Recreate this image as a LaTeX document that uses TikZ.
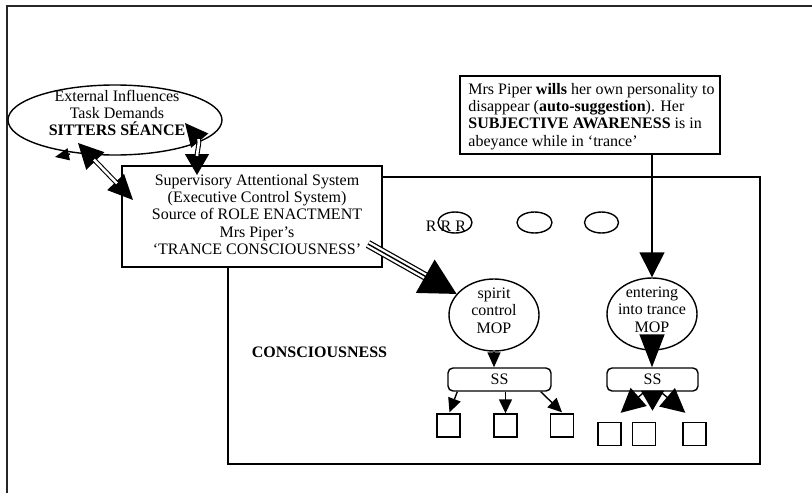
\documentclass[tikz,border=0pt]{standalone}
\usepackage{fontspec}
\setmainfont{Liberation Serif}
\usetikzlibrary{arrows.meta,shapes.geometric,calc}
\begin{document}
\begin{tikzpicture}[x=1pt,y=-1pt,
  every node/.style={font=\fontsize{16}{17.3}\selectfont, inner sep=0pt},
  box/.style={draw, line width=1.4pt},
  conn/.style={line width=1.4pt},
  ell/.style={draw, ellipse, line width=1.4pt},
  sqbox/.style={box, minimum width=23pt, minimum height=23pt},
  ssbox/.style={box, rounded corners=5pt, minimum height=23pt},
  dbl/.style={double, double distance=2.6pt, line width=1.1pt}]
\useasboundingbox (0,0) rectangle (812,493);
% frame
\draw[line width=2pt, black!85] (7,493) -- (7,6) -- (812,6);
% consciousness box
\node[box, minimum width=532pt, minimum height=287pt] (cons) at (494,320.5) {};
\node[font=\fontsize{16}{17.3}\selectfont\bfseries] (conslabel) at (319.5,352) {CONSCIOUSNESS};
% SAS
\node[box, fill=white, minimum width=260pt, minimum height=101pt] (sas) at (252,216.5) {};
\node[align=center] (sastext) at (257,214.5) {Supervisory Attentional System\\(Executive Control System)\\Source of ROLE ENACTMENT\\Mrs Piper's\\`TRANCE CONSCIOUSNESS'};
% external influences
\node[ell, minimum width=214pt, minimum height=70pt] (ext) at (115,120) {};
\node[align=center] (exttext) at (117,113) {External Influences\\Task Demands\\\textbf{SITTERS SÉANCE}};
% Mrs Piper box
\node[box, fill=white, minimum width=260pt, minimum height=78pt] (piper) at (590,115) {};
\node[align=left] (pipertext) at (591.5,116.5) {Mrs Piper \textbf{wills} her own personality to\\disappear (\textbf{auto-suggestion}). Her\\\textbf{SUBJECTIVE AWARENESS} is in\\abeyance while in `trance'};
% R R R ellipses
\node[ell, minimum width=34pt, minimum height=21pt] (r1) at (455,222.5) {};
\node[ell, minimum width=35pt, minimum height=21pt] (r2) at (534.5,222.5) {};
\node[ell, minimum width=34pt, minimum height=21pt] (r3) at (601.5,222.5) {};
\node (rrr) at (446,226) {R R R};
% MOPs
\node[ell, minimum width=90pt, minimum height=72pt] (spirit) at (494,315) {};
\node[align=center] (spirittext) at (494,310.5) {spirit\\control\\MOP};
\node[ell, minimum width=90pt, minimum height=72pt] (ent) at (652,314) {};
\node[align=center] (enttext) at (652,309.5) {entering\\into trance\\MOP};
% SS boxes
\node[ssbox, minimum width=103pt] (ss1) at (499.5,379.5) {SS};
\node[ssbox, minimum width=91pt] (ss2) at (652.5,379.5) {SS};
% squares
\node[sqbox] (sq1) at (448.5,425.5) {};
\node[sqbox] (sq2) at (505.5,425.5) {};
\node[sqbox] (sq3) at (562,425.5) {};
\node[sqbox] (sq4) at (609.5,434) {};
\node[sqbox] (sq5) at (644,434) {};
\node[sqbox] (sq6) at (694.5,434) {};
% connectors
\draw[conn, -{Triangle[length=25pt,width=25pt]}] (piper.south -| ent.north) -- (ent.north);
\draw[conn, -{Triangle[length=15pt,width=13pt]}] (spirit.south) -- (spirit.south |- ss1.north);
\draw[conn, -{Triangle[length=33pt,width=25pt]}] (ent.south) -- (ent.south |- ss2.north);
\draw[conn, -{Triangle[length=14pt,width=13pt]}] ($(ss1.south west)+(10,0)$) -- ($(sq1.north)+(1,-1)$);
\draw[conn, -{Triangle[length=14pt,width=13pt]}] (sq2.north |- ss1.south) -- (sq2.north);
\draw[conn, -{Triangle[length=14pt,width=13pt]}] ($(ss1.south east)+(-11,0)$) -- ($(sq3.north)+(0,-1)$);
\draw[conn, -{Triangle[length=24pt,width=24pt]}] ($(ss2.south)+(-8,0)$) -- ($(sq4.north east)+(-1,-9)$);
\draw[conn, -{Triangle[length=20pt,width=23pt]}] (ss2.south) -- ($(ss2.south)+(0,19)$);
\draw[conn, -{Triangle[length=24pt,width=24pt]}] ($(ss2.south)+(8,0)$) -- ($(sq6.north west)+(3,-9)$);
% triple arrow SAS -> spirit control
\coordinate (sasout) at (368,244);
\draw[line width=8.5pt, shorten >=33pt] (sasout) -- (spirit);
\draw[white, line width=6pt, shorten >=32pt] (sasout) -- (spirit);
\draw[conn, -{Triangle[length=36pt,width=38pt]}] (sasout) -- (spirit);
% double arrows near external influences
\coordinate (ld1) at (78,143);
\coordinate (ld2) at (133,200);
\draw[conn, {Triangle[length=25pt,width=25pt]}-{Triangle[length=25pt,width=23pt]}] (ld1) -- (ld2);
\draw[dbl, shorten <=23pt, shorten >=23pt] (ld1) -- (ld2);
\coordinate (rd1) at (185,123);
\coordinate (rd2) at (197,175);
\draw[conn, {Triangle[length=23pt,width=22pt]}-{Triangle[length=21pt,width=24pt]}] (rd1) .. controls (200,141) and (197,152) .. (rd2);
\draw[dbl, shorten <=21pt, shorten >=19pt] (rd1) .. controls (200,141) and (197,152) .. (rd2);
% small stray arrowhead
\coordinate (sm1) at (70,154);
\coordinate (sm2) at (55,157);
\draw[conn, -{Triangle[length=14pt,width=12pt]}] (sm1) -- (sm2);
\end{tikzpicture}
\end{document}
